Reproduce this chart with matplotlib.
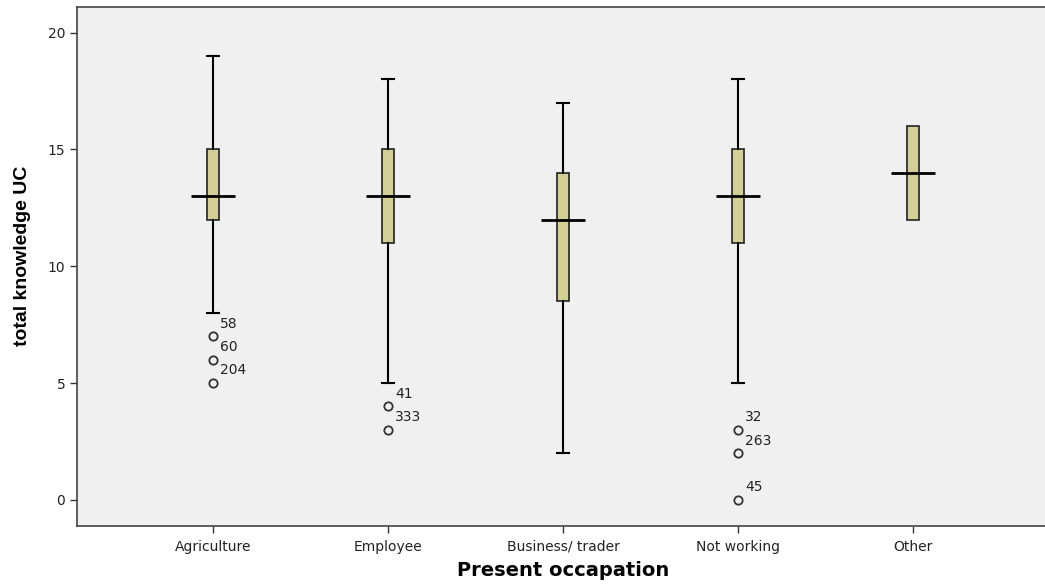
#!/usr/bin/env python
"""Box plot of total knowledge UC by present occupation (SPSS style)."""
import matplotlib
matplotlib.use("Agg")
import matplotlib.pyplot as plt

# data
occupations = ["Agriculture", "Employee", "Business/ trader", "Not working", "Other"]
whisker_low = [8, 5, 2, 5, 12]
q1 = [12, 11, 8.5, 11, 12]
medians = [13, 13, 12, 13, 14]
q3 = [15, 15, 14, 15, 16]
whisker_high = [19, 18, 17, 18, 16]
outlier_values = [[7, 6, 5], [4, 3], [], [3, 2, 0], []]
outlier_ids = [["58", "60", "204"], ["41", "333"], [], ["32", "263", "45"], []]

positions = list(range(1, len(occupations) + 1))
box_color = '#d4cf94'
bg_color = '#f0f0f0'

fig = plt.figure(figsize=(10.45, 5.84), dpi=100)
ax = fig.add_axes([77 / 1045, 58 / 584, 973 / 1045, 519 / 584])
ax.set_facecolor(bg_color)

stats = []
for i, name in enumerate(occupations):
    stats.append({
        'label': name, 'whislo': whisker_low[i], 'q1': q1[i], 'med': medians[i],
        'q3': q3[i], 'whishi': whisker_high[i], 'fliers': [],
    })

parts = ax.bxp(stats, positions=positions, widths=0.068, patch_artist=True,
               showfliers=False,
               boxprops=dict(facecolor=box_color, edgecolor='#222222', linewidth=1.2),
               whiskerprops=dict(color='black', linewidth=1.5),
               capprops=dict(color='black', linewidth=1.5),
               capwidths=0.063,
               medianprops=dict(linewidth=0))

# no caps when the whisker sits on the box edge (as for "Other")
for i in range(len(occupations)):
    if whisker_low[i] == q1[i]:
        parts['caps'][2 * i].set_visible(False)
    if whisker_high[i] == q3[i]:
        parts['caps'][2 * i + 1].set_visible(False)

# wide median bars like SPSS
ax.hlines(medians, [p - 0.125 for p in positions], [p + 0.125 for p in positions],
          colors='black', linewidth=2, zorder=5)

# outliers with case labels
for p, vals, ids in zip(positions, outlier_values, outlier_ids):
    if not vals:
        continue
    ax.plot([p] * len(vals), vals, linestyle='none', marker='o', markersize=6,
            markerfacecolor='none', markeredgecolor='#333333', markeredgewidth=1.3)
    for v, lab in zip(vals, ids):
        ax.annotate(lab, (p, v), xytext=(5, 4), textcoords='offset points',
                    ha='left', va='bottom', fontsize=10, color='#222222')

ax.set_xlim(1 - 136 / 175, 5 + 137 / 175)
ax.set_ylim(-1.12, 21.1)
ax.set_yticks([0, 5, 10, 15, 20])
ax.set_xticks(positions)
ax.set_xticklabels(occupations)
ax.tick_params(axis='both', direction='out', length=5, width=1, colors='#333333',
               labelsize=10, labelcolor='#222222')
ax.tick_params(axis='x', pad=5)

for side in ['left', 'bottom', 'top']:
    ax.spines[side].set_color('#444444')
    ax.spines[side].set_linewidth(1.2)
ax.spines['right'].set_visible(False)

ax.set_ylabel('total knowledge UC', fontsize=14, fontweight='bold',
              family=['Liberation Sans', 'DejaVu Sans'])
ax.yaxis.set_label_coords(-0.047, 0.52)
ax.set_xlabel('Present occapation', fontsize=14, fontweight='bold')
ax.xaxis.set_label_coords(0.4995, -0.068)

fig.savefig('out.png', dpi=100)
